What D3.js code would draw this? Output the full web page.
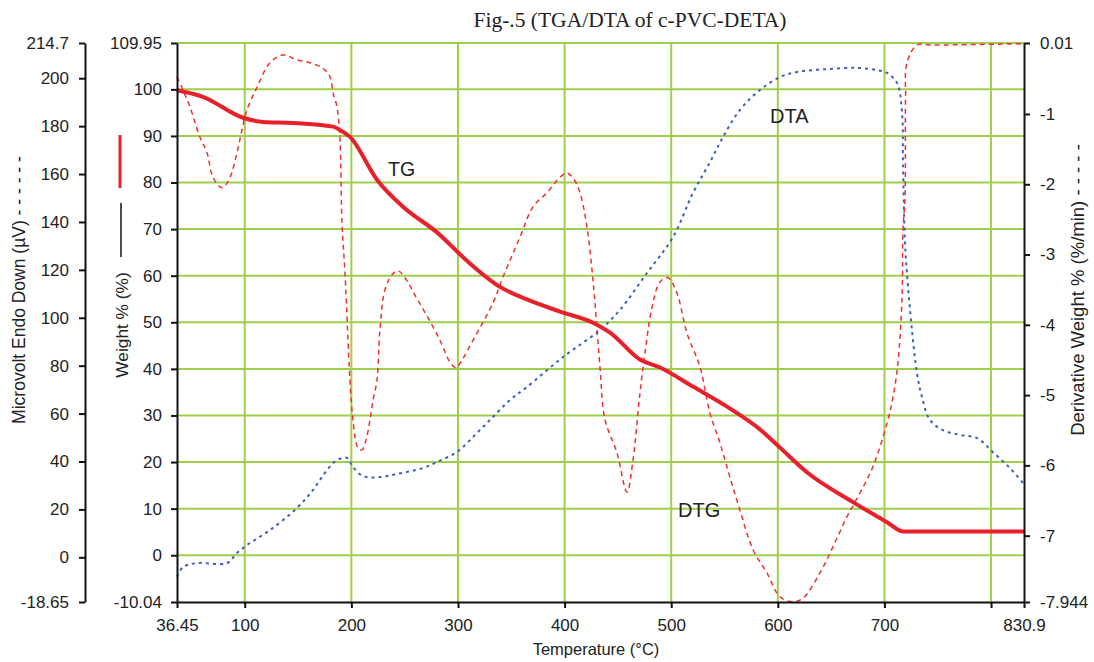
<!DOCTYPE html>
<html><head><meta charset="utf-8">
<script src="https://cdn.jsdelivr.net/npm/d3@7"></script>
<style>
html,body{margin:0;padding:0;background:#fff;}
svg text{font-family:"Liberation Sans",Arial,sans-serif;fill:#222;}
</style></head>
<body>
<svg id="chart" width="1094" height="662"></svg>
<script>
// ---- data ----
const tgTemp = [36.45,60.8,98.4,117.1,145.2,182.8,189.3,198.7,224.0,248.4,280.3,309.4,339.4,364.7,395.7,426.6,442.6,470.7,489.5,520.4,552.3,583.3,602.0,627.3,670.5,702.4,717.4,830.9];
const tgWeight = [99.8,98.4,93.9,93.0,92.8,92.0,91.3,89.8,80.6,74.8,69.3,63.0,57.6,54.9,52.3,49.9,47.8,42.0,40.3,36.2,31.9,27.0,23.1,17.8,11.4,7.1,5.1,5.1];

const dtgTemp = [36.45,42.1,48.6,58.0,64.6,70.2,78.7,86.2,92.7,97.4,102.1,111.5,123.7,135.9,149.0,161.2,173.4,180.0,182.8,186.5,189.3,191.2,194.0,198.7,201.5,206.2,210.0,213.7,217.5,220.3,224.0,226.8,231.5,238.1,243.7,250.3,259.7,271.9,283.1,292.5,298.1,303.8,314.1,332.8,342.2,358.2,370.4,383.5,395.7,402.2,407.9,414.4,421.0,425.7,428.5,433.2,437.9,449.1,458.5,464.2,470.7,475.4,482.0,489.5,497.0,505.4,514.8,527.0,536.4,545.7,555.1,564.5,576.7,589.8,602.0,614.2,623.6,639.5,651.7,664.9,677.1,689.2,702.4,708.0,712.7,716.5,717.4,719.3,719.8,721.1,730.5,745.5,830.9];
const dtgDeriv = [-0.47,-0.66,-0.90,-1.33,-1.55,-1.90,-2.05,-1.90,-1.55,-1.23,-0.94,-0.62,-0.27,-0.16,-0.23,-0.27,-0.35,-0.47,-0.70,-0.90,-1.37,-2.55,-3.26,-4.79,-5.35,-5.75,-5.78,-5.64,-5.35,-5.07,-4.79,-4.07,-3.50,-3.29,-3.23,-3.33,-3.58,-3.90,-4.22,-4.53,-4.61,-4.50,-4.22,-3.69,-3.32,-2.75,-2.32,-2.12,-1.90,-1.84,-1.91,-2.12,-2.61,-3.22,-3.69,-4.60,-5.35,-5.82,-6.38,-5.92,-4.97,-4.40,-3.75,-3.39,-3.33,-3.55,-4.12,-4.60,-5.26,-5.68,-6.17,-6.64,-7.20,-7.53,-7.87,-7.94,-7.89,-7.53,-7.16,-6.73,-6.39,-6.02,-5.40,-5.03,-4.54,-3.60,-2.65,-2.18,-0.76,-0.27,-0.02,-0.02,0.00];

const dtaTemp = [36.45,42.1,55.2,83.3,92.7,102.1,123.7,149.0,164.0,177.1,186.5,195.9,201.5,210.9,226.8,242.8,267.2,280.3,299.1,317.8,332.8,348.8,364.7,398.5,433.2,451.9,477.3,501.7,520.4,536.4,548.6,564.5,583.3,602.0,618.0,646.1,674.2,693.0,702.4,711.8,716.5,717.4,719.3,721.1,725.8,730.5,735.2,742.7,754.9,770.8,786.8,801.8,817.7,829.9];
const dtaMicrovolt = [-8.1,-4.1,-2.4,-2.4,1.8,5.1,11.4,20.6,28.1,36.4,40.6,41.5,37.7,33.9,33.5,34.8,37.3,39.8,44.0,51.9,58.6,65.7,71.1,83.6,94.9,103.3,118.7,133.7,152.1,165.0,175.5,186.8,195.1,200.5,202.6,203.8,204.3,203.4,202.2,198.0,185.5,164.6,131.2,118.7,94.9,76.9,66.9,57.3,53.1,51.1,49.8,43.9,37.2,31.1];

const tempTicks = [36.45,100,200,300,400,500,600,700,800,830.9];
const tempTickLabels = ["36.45","100","200","300","400","500","600","700","","830.9"];
const weightTicks = [-10.04,0,10,20,30,40,50,60,70,80,90,100,109.95];
const microvoltTicks = [-18.65,0,20,40,60,80,100,120,140,160,180,200,214.7];
const derivTicks = [-7.944,-7,-6,-5,-4,-3,-2,-1,0.01];

const titleText = "Fig-.5 (TGA/DTA of c-PVC-DETA)";
const xLabel = "Temperature (°C)";
const uvLabel = "Microvolt Endo Down (µV) - - - - - -";
const wLabel = "Weight % (%)";
const dLabel = "Derivative Weight % (%/min) - - - - -";

// ---- layout ----
const L = 177, R = 1024, T = 43, B = 602;
const svg = d3.select("#chart");

const x = d3.scaleLinear().domain([36.45, 830.9]).range([L, R]);
const yW = d3.scaleLinear().domain([-10.04, 109.95]).range([B, T]);
const yV = d3.scaleLinear().domain([-18.65, 214.7]).range([B, T]);
const yD = d3.scaleLinear().domain([-7.944, 0.01]).range([B, T]);

const green = "#9fcf4a";
// grid
const grid = svg.append("g");
weightTicks.filter(v => v > -10).forEach(v => {
  grid.append("line").attr("x1", L).attr("x2", R).attr("y1", yW(v)).attr("y2", yW(v))
    .attr("stroke", green).attr("stroke-width", 2);
});
tempTicks.filter(v => v > 37 && v < 830).forEach(v => {
  grid.append("line").attr("x1", x(v)).attr("x2", x(v)).attr("y1", T).attr("y2", B)
    .attr("stroke", green).attr("stroke-width", 2);
});

// curves
const curve = d3.curveCatmullRom.alpha(0.5);
const dtaLine = d3.line().x((d,i) => x(dtaTemp[i])).y(d => yV(d)).curve(curve);
const dtgLine = d3.line().x((d,i) => x(dtgTemp[i])).y(d => yD(d)).curve(curve);
const tgLine = d3.line().x((d,i) => x(tgTemp[i])).y(d => yW(d)).curve(d3.curveMonotoneX);

svg.append("path").attr("d", dtaLine(dtaMicrovolt)).attr("fill","none")
  .attr("stroke","#3b5fbf").attr("stroke-width",2).attr("stroke-dasharray","3,4");
svg.append("path").attr("d", dtgLine(dtgDeriv)).attr("fill","none")
  .attr("stroke","#f03030").attr("stroke-width",1.5).attr("stroke-dasharray","5,4");
svg.append("path").attr("d", tgLine(tgWeight)).attr("fill","none")
  .attr("stroke","#e8202a").attr("stroke-width",4).attr("stroke-linejoin","round");

// axes
function styleAxis(g){
  g.selectAll("path.domain").attr("stroke","#111").attr("stroke-width",2);
  g.selectAll(".tick line").attr("stroke","#111").attr("stroke-width",2);
  g.selectAll(".tick text").attr("font-size",17).attr("fill","#222")
    .attr("font-family","'Liberation Sans',Arial,sans-serif");
}
const fmt = d => String(d);
const xAxis = d3.axisBottom(x).tickValues(tempTicks).tickSize(6).tickSizeOuter(0)
  .tickFormat((d,i) => tempTickLabels[i]).tickPadding(11);
svg.append("g").attr("transform",`translate(0,${B})`).call(xAxis).call(styleAxis);

const wAxis = d3.axisLeft(yW).tickValues(weightTicks).tickSize(6).tickSizeOuter(0).tickFormat(fmt).tickPadding(9);
svg.append("g").attr("transform",`translate(${L},0)`).call(wAxis).call(styleAxis);

const vAxis = d3.axisLeft(yV).tickValues(microvoltTicks).tickSize(6).tickSizeOuter(0).tickFormat(fmt).tickPadding(10);
svg.append("g").attr("transform",`translate(85,0)`).call(vAxis).call(styleAxis);

const dAxis = d3.axisRight(yD).tickValues(derivTicks).tickSize(6).tickSizeOuter(0).tickFormat(fmt).tickPadding(10);
svg.append("g").attr("transform",`translate(${R},0)`).call(dAxis).call(styleAxis);

// title
svg.append("text").attr("x", 630).attr("y", 27).attr("text-anchor","middle")
  .style("font-family","'Liberation Serif','Times New Roman',serif").attr("font-size",21.5).text(titleText);
// x label
svg.append("text").attr("x", 596).attr("y", 655).attr("text-anchor","middle").attr("font-size",16.5).text(xLabel);
// left labels
svg.append("text").attr("transform","translate(25,290) rotate(-90)").attr("text-anchor","middle")
  .attr("font-size",17.5).text(uvLabel);
svg.append("text").attr("transform","translate(128,325) rotate(-90)").attr("text-anchor","middle")
  .attr("font-size",17.3).text(wLabel);
svg.append("line").attr("x1",120).attr("x2",120).attr("y1",135).attr("y2",188)
  .attr("stroke","#e8202a").attr("stroke-width",3);
svg.append("line").attr("x1",121).attr("x2",121).attr("y1",203).attr("y2",257)
  .attr("stroke","#111").attr("stroke-width",1.5);
// right label
svg.append("text").attr("transform","translate(1084,290) rotate(-90)").attr("text-anchor","middle")
  .attr("font-size",18.5).text(dLabel);

// annotations
svg.append("text").attr("x",388).attr("y",176).attr("font-size",19.5).text("TG");
svg.append("text").attr("x",770).attr("y",123).attr("font-size",20).text("DTA");
svg.append("text").attr("x",678).attr("y",517).attr("font-size",20).text("DTG");
</script>
</body></html>
